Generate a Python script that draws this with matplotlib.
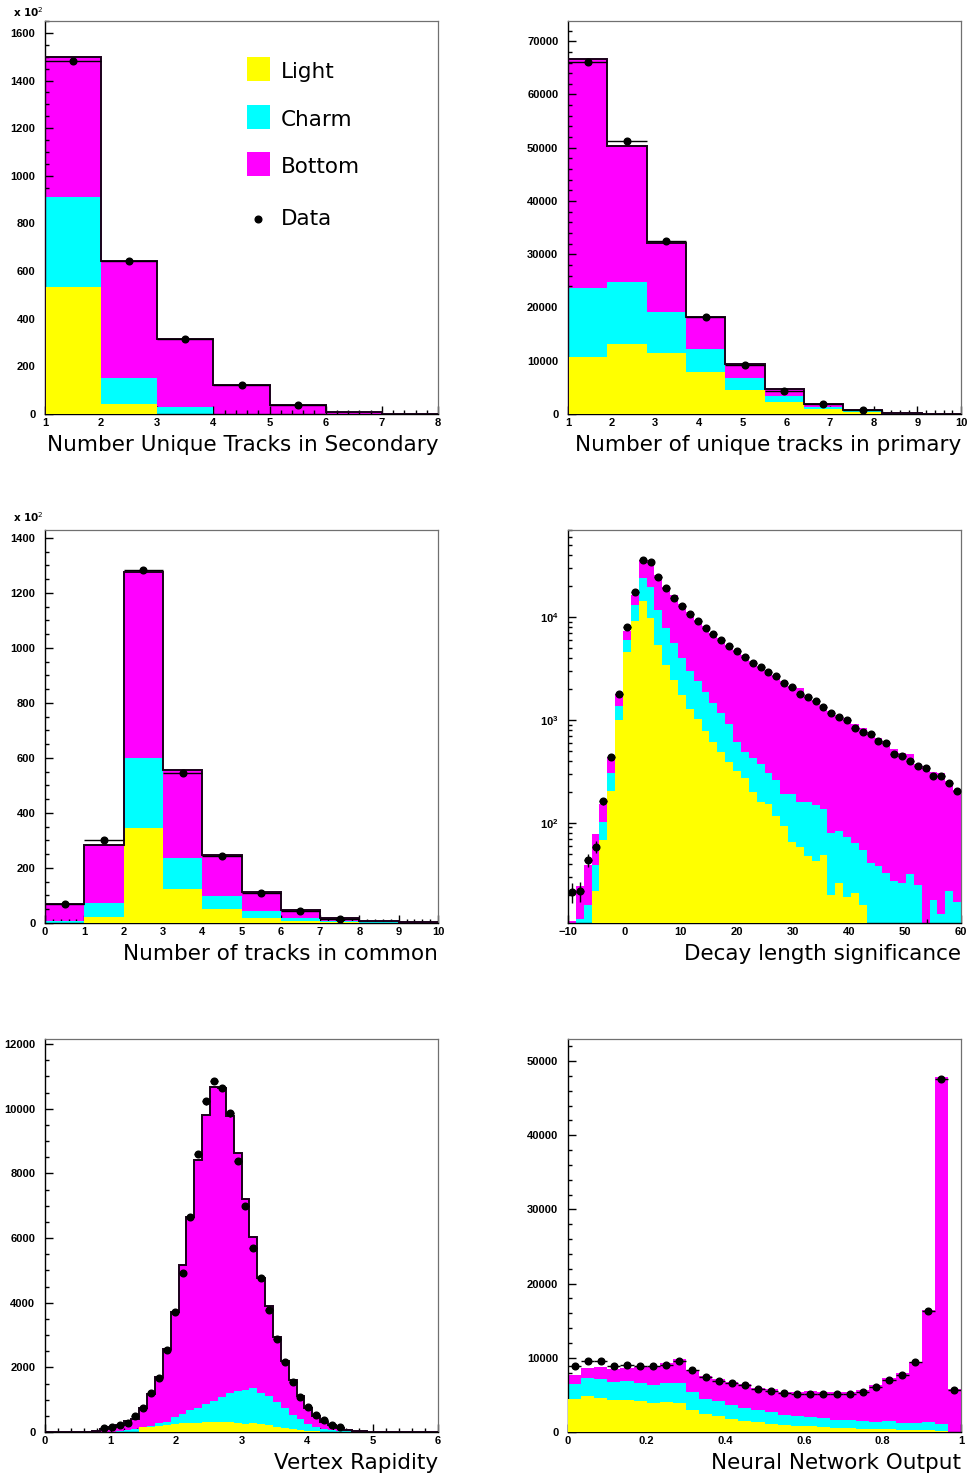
import numpy as np
import matplotlib
matplotlib.use("Agg")
import matplotlib.pyplot as plt
from matplotlib.patches import Rectangle
from matplotlib.ticker import MultipleLocator, LogLocator, NullFormatter, FuncFormatter

# ---------------- data ----------------
# Panel A: Number Unique Tracks in Secondary (units of 10^2)
secA_range = (1, 8, 7)
secA_light = [535, 42, 0, 0, 0, 0, 0]
secA_light_charm = [912, 151, 28, 1, 0, 0, 0]
secA_all_mc = [1498, 643, 316, 122, 38, 9, 1]
secA_data = [1482, 643, 316, 122, 38, np.nan, np.nan]

# Panel B: Number of unique tracks in primary
priB_range = (1, 10, 10)
priB_light = [10690, 13200, 11450, 7940, 4570, 2250, 940, 310, 80, 20]
priB_light_charm = [23700, 24770, 19140, 12200, 6750, 3380, 1310, 500, 150, 30]
priB_all_mc = [66730, 50400, 32020, 18260, 9440, 4630, 1940, 810, 250, 50]
priB_data = [66170, 51280, 32520, 18140, 9260, 4320, 1940, 810, np.nan, np.nan]

# Panel C: Number of tracks in common (units of 10^2)
comC_range = (0, 10, 10)
comC_light = [1, 21, 345, 125, 50, 19, 7, 2, 1, 0.3]
comC_light_charm = [7, 73, 599, 235, 97, 42, 17, 6, 2, 0.6]
comC_all_mc = [69, 284, 1277, 556, 246, 112, 47, 19, 7, 2.5]
comC_data = [69, 303, 1283, 547, 244, 108, 45, 16, np.nan, np.nan]

# Panel D: Decay length significance (log scale)
dlsD_range = (-10, 60, 50)
dlsD_light = [1, 2, 3, 21.8, 68, 205, 1000, 4530, 9210, 14420, 9780, 5370, 3430,
              2455, 1755, 1270, 1023, 781, 615, 492, 393, 321, 270, 200, 160, 153,
              117, 93, 65, 58, 47, 42.7, 49, 19.7, 26.2, 19, 20.8, 16, 5, 5, 5, 6,
              5, 4, 3, 4, 3, 3, 2, 2]
dlsD_light_charm = [6, 11.7, 15.9, 39, 101, 303, 1368, 5970, 13180, 24150, 19720,
                    11700, 7870, 5620, 4020, 3000, 2360, 1857, 1465, 1153, 914, 615,
                    492, 424, 370, 307, 260, 189, 189, 160, 160, 149, 136, 79, 83, 72,
                    64, 54, 40.5, 38.1, 32.1, 27, 25.8, 31.6, 24.7, 8, 17.7, 13.1,
                    21.6, 16.9]
dlsD_all_mc = [11, 24.3, 39, 77.6, 152, 433, 1778, 7360, 16380, 36140, 35380, 25820,
               19700, 16520, 13390, 11190, 9290, 8110, 6980, 6240, 5380, 4730, 4230,
               3730, 3300, 2955, 2700, 2360, 2128, 2032, 1753, 1567, 1390, 1214, 1110,
               1037, 907, 829, 770, 673, 629, 518, 481, 463, 370, 356, 309, 302, 255,
               208]
dlsD_data = [21.3, 21.8, 43.6, 58.3, 161, 440, 1778, 8000, 17520, 35650, 34040,
             24720, 19020, 15420, 12790, 10690, 9080, 7820, 6830, 6010, 5220, 4630,
             4080, 3560, 3280, 2910, 2640, 2275, 2080, 1790, 1650, 1520, 1340, 1162,
             1062, 986, 836, 764, 725, 629, 593, 463, 446, 399, 354, 338, 283, 287,
             245, 203]

# Panel E: Vertex Rapidity
rapE_range = (0, 6, 50)
rapE_light = [0, 0, 0, 0, 0, 0, 0, 0, 0, 0, 0, 15, 150, 165, 175, 206, 250, 280, 285,
              290, 310, 320, 320, 310, 280, 240, 265, 235, 210, 165, 124, 93, 62, 41,
              20, 10, 5, 0, 0, 0, 0, 0, 0, 0, 0, 0, 0, 0, 0, 0]
rapE_light_charm = [0, 0, 0, 1, 2, 4, 8, 12, 15, 20, 62, 93, 113, 196, 268, 320, 454,
                    567, 680, 753, 876, 948, 1093, 1196, 1268, 1299, 1371, 1196, 1124,
                    938, 742, 526, 392, 258, 165, 93, 62, 31, 20, 10, 6, 3, 2, 0, 0,
                    0, 0, 0, 0, 0]
rapE_all_mc = [0, 0, 0, 3, 8, 15, 35, 82, 155, 206, 350, 412, 742, 1186, 1711, 2567,
               3701, 5155, 6660, 8423, 9794, 10660, 10639, 9773, 8619, 7206, 6021,
               4773, 3907, 2928, 2196, 1608, 1124, 753, 495, 309, 206, 113, 62, 31,
               20, 12, 8, 5, 3, 2, 1, 1, 0, 0]
rapE_data = [np.nan] * 7 + [113, 165, 206, 289, 495, 732, 1196, 1670, 2526, 3701,
                            4918, 6660, 8598, 10227, 10856, 10639, 9856, 8371, 7000,
                            5691, 4773, 3773, 2866, 2165, 1557, 1072, 773, 536, 381,
                            206, 144] + [np.nan] * 12

# Panel F: Neural Network Output
nnF_range = (0, 1, 30)
nnF_light = [4447, 4852, 4582, 4358, 4358, 4223, 3908, 4088, 3908, 3010, 2426, 2156,
             1752, 1527, 1348, 1078, 898, 809, 764, 629, 584, 539, 449, 404, 359, 314,
             314, 270, 180, 0]
nnF_light_charm = [6469, 7323, 7143, 6783, 6873, 6649, 6334, 6649, 6649, 5391, 4447,
                   4223, 3639, 3235, 2965, 2695, 2291, 2156, 1976, 1842, 1617, 1617,
                   1482, 1392, 1527, 1168, 1168, 1348, 1078, 0]
nnF_all_mc = [7682, 8580, 8715, 8446, 8670, 8805, 8805, 9254, 9793, 8356, 7547, 7143,
              6783, 6424, 5975, 5750, 5436, 5436, 5526, 5346, 5346, 5436, 5660, 6289,
              7278, 7996, 9479, 16442, 47889, 5750]
nnF_data = [8895, 9569, 9569, 8895, 9030, 8850, 8850, 9030, 9524, 8356, 7412, 6873,
            6559, 6289, 5795, 5571, 5256, 5121, 5121, 5076, 5121, 5166, 5391, 6020,
            6963, 7637, 9389, 16262, 47530, 5660]

legend_labels = ["Light", "Charm", "Bottom", "Data"]
C_LIGHT, C_CHARM, C_BOTTOM = "#ffff00", "#00ffff", "#ff00ff"

# ---------------- figure ----------------
plt.rcParams["font.family"] = ["DejaVu Sans"]
plt.rcParams["mathtext.fontset"] = "dejavusans"
fig = plt.figure(figsize=(9.71, 14.76), dpi=100)

W, H = 971.0, 1476.0
cols = [45, 568]
rows = [(21, 414), (530, 923), (1039, 1432)]
aw = 393


def make_ax(col, row):
    top, bot = rows[row]
    return fig.add_axes([cols[col] / W, 1 - bot / H, aw / W, (bot - top) / H])


tick_fp = dict(family="Liberation Sans", weight="bold", size=8)
fmt_g = FuncFormatter(lambda v, p: ("%g" % v).replace("-", "\u2212"))


def style(ax, xlim, ylim, xmaj, xmin, ymaj=None, ymin=None, xlabel="", log=False):
    ax.set_xlim(*xlim)
    if log:
        ax.set_yscale("log")
    ax.set_ylim(*ylim)
    ax.xaxis.set_major_locator(MultipleLocator(xmaj))
    ax.xaxis.set_minor_locator(MultipleLocator(xmin))
    ax.xaxis.set_major_formatter(fmt_g)
    if log:
        ax.yaxis.set_major_locator(LogLocator(base=10))
        ax.yaxis.set_minor_locator(LogLocator(base=10, subs=np.arange(2, 10)))
        ax.yaxis.set_minor_formatter(NullFormatter())
    else:
        ax.yaxis.set_major_locator(MultipleLocator(ymaj))
        ax.yaxis.set_minor_locator(MultipleLocator(ymin))
        ax.yaxis.set_major_formatter(fmt_g)
    ax.tick_params(which="both", direction="in", top=False, right=False, width=1.0)
    ax.tick_params(which="major", length=5.5)
    ax.tick_params(which="minor", length=2.8)
    ax.tick_params(axis="y", which="major", pad=7)
    ax.tick_params(axis="x", which="major", pad=3)
    for lab in ax.get_xticklabels() + ax.get_yticklabels():
        lab.set_fontfamily(tick_fp["family"])
        lab.set_fontweight(tick_fp["weight"])
        lab.set_fontsize(tick_fp["size"])
    for s in ("top", "right"):
        ax.spines[s].set_color("#707070")
        ax.spines[s].set_linewidth(0.9)
    for s in ("left", "bottom"):
        ax.spines[s].set_color("black")
        ax.spines[s].set_linewidth(1.0)
    ax.set_xlabel(xlabel, loc="right", fontsize=15.5, labelpad=5)


def draw(ax, rng, light, light_charm, all_mc, data, outline=True, base=0.0, scale=1.0):
    lo, hi, n = rng
    edges = np.linspace(lo, hi, n + 1)
    ax.stairs(np.maximum(all_mc, base), edges, baseline=base, fill=True,
              color=C_BOTTOM, lw=0, zorder=1)
    ax.stairs(np.maximum(light_charm, base), edges, baseline=base, fill=True,
              color=C_CHARM, lw=0, zorder=2)
    ax.stairs(np.maximum(light, base), edges, baseline=base, fill=True,
              color=C_LIGHT, lw=0, zorder=3)
    if outline:
        ax.stairs(all_mc, edges, baseline=base, color="#1a001a", lw=1.4, zorder=4)
    d = np.asarray(data, dtype=float)
    centers = 0.5 * (edges[:-1] + edges[1:])
    half = 0.5 * (edges[1] - edges[0])
    yerr = np.sqrt(np.nan_to_num(d) * scale) / scale
    ax.errorbar(centers, d, xerr=half, yerr=yerr, fmt="o",
                color="black", ms=4.8, elinewidth=1.0, capsize=0, zorder=5)


# Panel A
axA = make_ax(0, 0)
draw(axA, secA_range, secA_light, secA_light_charm, secA_all_mc, secA_data, scale=100)
style(axA, (1, 8), (0, 1650), 1, 0.2, 200, 50, "Number Unique Tracks in Secondary")
axA.text(-0.082, 1.022, r"x 10$^{2}$", transform=axA.transAxes, fontsize=7.5,
         fontweight="bold", ha="left", va="center")
# legend
sq_y = [0.847, 0.725, 0.606]
for col, yy, lab in zip([C_LIGHT, C_CHARM, C_BOTTOM], sq_y, legend_labels[:3]):
    axA.add_patch(Rectangle((0.514, yy), 0.0585, 0.061, transform=axA.transAxes,
                            color=col, lw=0, zorder=6))
    axA.text(0.6005, yy + 0.022, lab, transform=axA.transAxes, fontsize=15.5,
             ha="left", va="center", zorder=6)
axA.plot([0.542], [0.496], "o", color="black", ms=4.8, transform=axA.transAxes,
         zorder=6)
axA.text(0.6005, 0.496, legend_labels[3], transform=axA.transAxes, fontsize=15.5,
         ha="left", va="center", zorder=6)

# Panel B
axB = make_ax(1, 0)
draw(axB, priB_range, priB_light, priB_light_charm, priB_all_mc, priB_data)
style(axB, (1, 10), (0, 73800), 1, 0.2, 10000, 2000, "Number of unique tracks in primary")

# Panel C
axC = make_ax(0, 1)
draw(axC, comC_range, comC_light, comC_light_charm, comC_all_mc, comC_data, scale=100)
style(axC, (0, 10), (0, 1429), 1, 0.2, 200, 50, "Number of tracks in common")
axC.text(-0.082, 1.033, r"x 10$^{2}$", transform=axC.transAxes, fontsize=7.5,
         fontweight="bold", ha="left", va="center")

# Panel D
axD = make_ax(1, 1)
draw(axD, dlsD_range, dlsD_light, dlsD_light_charm, dlsD_all_mc, dlsD_data,
     outline=False, base=1.0)
style(axD, (-10, 60), (10.6, 70000), 10, 2, xlabel="Decay length significance", log=True)

# Panel E
axE = make_ax(0, 2)
draw(axE, rapE_range, rapE_light, rapE_light_charm, rapE_all_mc, rapE_data)
style(axE, (0, 6), (0, 12155), 1, 0.2, 2000, 500, "Vertex Rapidity")

# Panel F
axF = make_ax(1, 2)
draw(axF, nnF_range, nnF_light, nnF_light_charm, nnF_all_mc, nnF_data, outline=False)
style(axF, (0, 1), (0, 52965), 0.2, 0.04, 10000, 2000, "Neural Network Output")

fig.savefig("out.png", dpi=100)
